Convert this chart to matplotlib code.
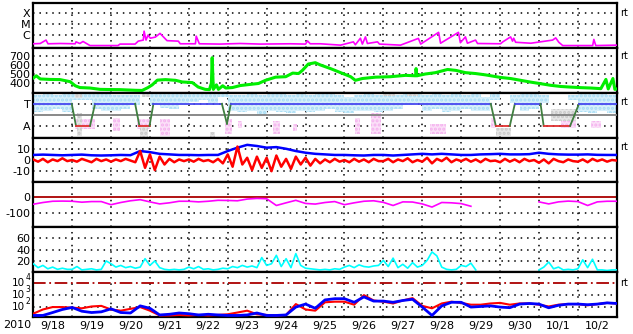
import numpy as np
import matplotlib
matplotlib.use("Agg")
import matplotlib.pyplot as plt
from matplotlib.transforms import blended_transform_factory
from matplotlib.ticker import NullLocator

plt.rcParams["font.family"] = ["DejaVu Sans"]
plt.rcParams["hatch.linewidth"] = 1.5

# time axis: days since 2010-09-18 00:00
DAY_LABELS = ["9/18", "9/19", "9/20", "9/21", "9/22", "9/23", "9/24", "9/25",
              "9/26", "9/27", "9/28", "9/29", "9/30", "10/1", "10/2"]

# GOES X-ray flux (W/m^2)
xray_t = [0.00, 0.18, 0.33, 0.38, 0.70, 1.08, 1.10, 1.20, 1.28, 1.46, 1.80, 2.18,
          2.23, 2.62, 2.70, 2.83, 2.85, 2.90, 2.95, 3.01, 3.14, 3.26, 3.44, 3.73,
          3.78, 4.17, 4.19, 4.27, 4.80, 5.32, 5.84, 6.61, 7.00, 7.05, 7.12, 7.38,
          7.90, 8.23, 8.28, 8.41, 8.46, 8.54, 8.59, 8.85, 8.90, 9.44, 9.90, 9.96,
          10.42, 10.47, 10.93, 10.98, 11.11, 11.16, 11.37, 11.42, 12.01, 12.07,
          12.27, 12.32, 12.35, 12.40, 12.79, 13.35, 13.43, 13.51, 13.61, 14.38,
          14.41, 14.46, 15.00]
xray_flux = [1.6e-7, 1.7e-7, 3.5e-7, 1.6e-7, 1.7e-7, 1.6e-7, 2.4e-7, 1.7e-7,
             2.6e-7, 1.1e-7, 1.1e-7, 1.1e-7, 1.5e-7, 1.5e-7, 2.8e-7, 3.5e-7,
             2.3e-6, 3.5e-7, 1.0e-6, 5.2e-7, 6.6e-7, 1.45e-6, 3.1e-7, 2.8e-7,
             1.6e-7, 1.6e-7, 8.1e-7, 1.6e-7, 1.5e-7, 1.7e-7, 1.5e-7, 1.6e-7,
             1.5e-7, 2.95e-7, 1.6e-7, 1.6e-7, 1.2e-7, 2.4e-7, 1.3e-7, 5.2e-7,
             1.5e-7, 6.9e-7, 1.7e-7, 2.4e-7, 1.5e-7, 1.2e-7, 5.0e-7, 1.5e-7,
             1.8e-6, 1.8e-7, 1.8e-6, 2.0e-7, 6.9e-7, 1.8e-7, 3.5e-7, 1.7e-7,
             1.6e-7, 2.4e-7, 6.9e-7, 2.8e-7, 5.2e-7, 2.2e-7, 1.8e-7, 3.5e-7,
             5.6e-7, 2.2e-7, 1.1e-7, 1.1e-7, 4.0e-7, 1.1e-7, 1.2e-7]

# solar wind speed (km/s)
speed_t = [0.00, 0.08, 0.18, 0.43, 0.69, 0.95, 1.08, 1.20, 1.46, 1.72, 1.98, 2.23,
           2.62, 2.80, 2.95, 3.06, 3.19, 3.40, 3.66, 3.83, 4.09, 4.24, 4.42, 4.53,
           4.58, 4.60, 4.63, 4.71, 4.76, 4.87, 4.95, 5.12, 5.32, 5.58, 5.79, 5.97,
           6.23, 6.49, 6.67, 6.82, 6.92, 7.07, 7.25, 7.38, 7.64, 7.90, 8.16, 8.28,
           8.46, 8.80, 9.18, 9.57, 9.83, 9.84, 9.86, 10.08, 10.34, 10.65, 10.86,
           11.11, 11.37, 11.63, 12.01, 12.27, 12.53, 12.79, 13.04, 13.30, 13.56,
           13.82, 14.08, 14.33, 14.59, 14.72, 14.78, 14.90, 14.95, 15.00]
speed = [455, 480, 445, 440, 438, 415, 370, 350, 345, 330, 328, 327,
         320, 318, 350, 380, 432, 438, 430, 412, 405, 356, 330, 327,
         400, 680, 330, 380, 330, 370, 345, 350, 372, 385, 395, 430,
         465, 470, 510, 505, 540, 610, 625, 600, 560, 515, 470, 430,
         450, 465, 470, 485, 480, 560, 480, 500, 515, 550, 540,
         515, 505, 490, 462, 450, 430, 410, 393, 375, 362,
         355, 349, 345, 338, 440, 335, 450, 330, 335]

# IMF sector: +1 toward (T), -1 away (A)
sector_t = [0, 0.99, 1.10, 1.46, 1.59, 2.62, 2.73, 2.99, 3.09, 4.85, 4.98, 5.08,
            11.76, 11.89, 12.25, 12.38, 13.04, 13.12, 13.80, 14.03, 15.0]
sector_v = [1, 1, -1, -1, 1, 1, -1, -1, 1, 1, -0.8, 1, 1, -1, -1, 1, 1, -1, -1, 1, 1]

# observed IMF angle clouds, 6-hour bins (upper / lower extent)
cloud_hi = [1.75, 1.85, 1.75, 1.94, 1.94, 1.94, 1.94, 1.94, 1.75, 1.75, 1.75, np.nan,
            1.94, 1.94, 1.94, 1.85, 1.85, 1.94, 1.94, 1.94, 1.75, 1.75, 1.94, 1.75,
            1.85, 1.94, 1.75, 1.94, 1.75, 1.85, 1.94, 1.75, 1.57, 1.75, 1.94, 1.75,
            1.94, 1.75, 1.94, 1.94, 1.75, 1.94, 1.75, 1.94, 1.75, 1.94, 1.57, 1.94,
            np.nan, 1.75, 1.94, 1.94, 1.75, np.nan, np.nan, 1.75, 1.94, 1.94, 1.94, 1.75]
cloud_lo = [0.21, 0.39, 0.57, 0.21, 1.30, 1.30, 0.57, 0.39, 0.39, 0.57, 0.85, np.nan,
            0.85, 0.66, 0.57, 0.85, 1.12, 1.30, 1.03, 1.57, 0.39, 0.21, 0.39, -0.06,
            0.39, 0.21, 0.12, 0.39, 0.21, 0.39, 0.57, 0.21, 0.12, 0.39, 0.39, 0.21,
            0.39, 0.57, 0.85, 1.03, 0.39, 0.57, 0.21, 0.39, 0.57, 0.39, 0.39, 1.30,
            np.nan, 1.03, 0.39, 0.57, 1.03, np.nan, np.nan, 1.30, 0.21, 0.12, 0.39, 0.12]
pink_t0 = [1.08, 2.05, 2.67, 3.26, 4.94, 5.27, 6.17, 6.69, 8.28, 8.67, 10.21, 11.76, 13.56, 14.33]
pink_t1 = [1.59, 2.23, 3.01, 3.52, 5.12, 5.37, 6.35, 6.79, 8.41, 8.93, 10.60, 11.89, 13.95, 14.59]
pink_lo = [-1.25, -1.43, -1.25, -1.88, -1.70, -1.16, -1.70, -1.43, -1.70, -1.70, -1.70, -1.16, -1.16, -1.16]
pink_hi = [-0.34, -0.25, -0.34, -0.34, -0.34, -0.52, -0.52, -0.79, -0.25, 0.12, -0.79, -0.25, -0.06, -0.52]
gray_t0 = [1.08, 1.13, 2.75, 2.80, 4.55, 9.00, 9.60, 11.89, 13.30]
gray_t1 = [1.26, 1.26, 2.95, 3.01, 4.68, 9.30, 9.90, 12.27, 13.95]
gray_lo = [1.48, -1.88, -2.06, 1.57, -2.06, 1.66, 1.66, -1.88, -0.52]
gray_hi = [1.94, 0.12, -1.06, 1.94, -1.52, 1.94, 1.94, -1.16, 0.57]

# IMF Bt / Bz (nT)
bt = [4.5, 4.8, 4.5, 4.2, 4.5, 4.8, 4.2, 4.0, 4.2, 4.5, 4.3, 8.0, 7.0, 5.5, 5.0, 4.5,
      4.5, 4.3, 4.5, 4.5, 8.0, 11.0, 13.5, 12.5, 11.0, 11.5, 10.0, 8.0, 6.5, 5.5, 5.0, 4.5,
      4.5, 4.2, 4.0, 4.5, 4.5, 4.0, 4.5, 5.0, 5.5, 5.0, 5.5, 5.0, 4.5, 4.5, 5.0, 5.2,
      5.5, 5.0, 5.0, 5.2, 6.5, 5.5, 5.0, 4.8, 4.8, 5.0, 4.6, 4.5, 4.5]
bz = [0.5, -1.5, 1.0, -2.0, 0.5, -1.0, 1.5, -1.0,
      0.0, -1.5, 1.0, -0.5, -2.0, 1.0, -1.0, 0.5,
      -1.5, 0.5, -1.0, 1.0, -0.5, -2.0, 8.0, -7.0,
      5.0, -9.0, 3.0, -4.0, 1.0, -2.0, 0.5, -1.0,
      0.5, -1.5, 1.0, -1.0, 0.0, -2.0, 1.0, -3.0,
      5.0, -6.0, 12.0, -4.0, 2.0, -9.0, 3.0, -7.0,
      2.0, -10.0, 4.0, -6.0, 1.0, -8.0, 3.0, -4.0,
      2.0, -5.0, 1.0, -3.0, 0.5, -2.0, 1.0, -1.5,
      0.0, -2.0, 1.0, -1.5, 0.5, -2.0, 1.0, -1.0,
      -1.0, 1.0, -2.0, 0.5, -1.0, 1.5, -2.0, 0.0,
      -1.5, 2.0, -3.0, 1.0, -1.0, 2.0, -2.0, 0.5,
      -1.0, 1.0, -1.5, 0.5, -2.0, 1.0, -1.0, -0.5,
      -2.0, 1.0, -1.5, 0.5, -2.0, 1.0, -1.0, 0.0,
      -2.5, 0.5, -3.0, 1.0, -1.0, -2.0, 0.5, -1.0,
      -1.5, 0.5, -2.0, 1.0, -1.0, 0.5, -1.5, 0.0,
      -0.5]

# Dst (nT), 6-hourly
nan = np.nan
dst = [-47, -36, -28, -27, -28, -34, -30, -30,
       -50, -36, -25, -18, -32, -45, -38, -28,
       -28, -32, -28, -22, -23, -25, -14, -10,
       -12, -55, -38, -22, -42, -46, -36, -30,
       -50, -38, -28, -25, -35, -55, -32, -33,
       -45, -65, -36, -38, -43, -60, nan, nan,
       nan, nan, nan, nan, -32, -45, -32, -27,
       -30, -55, -32, -28, -28]

# proton density (/cc), 3-hourly
density = [15, 8, 12, 6, 9, 5, 7, 5,
           5, 10, 4, 5, 6, 4, 5, 20,
           15, 9, 12, 8, 10, 7, 9, 24,
           12, 20, 8, 5, 4, 5, 4, 5,
           9, 6, 10, 5, 6, 4, 5, 7,
           6, 10, 8, 12, 9, 11, 8, 26,
           12, 15, 30, 10, 24, 8, 33, 12,
           7, 6, 5, 4, 5, 4, 6, 5,
           9, 12, 8, 13, 10, 9, 11, 12,
           21, 10, 25, 8, 14, 7, 17, 9,
           12, 21, 36, 29, 9, 5, 4, 5,
           12, 10, 16, 4, nan, nan, nan, nan,
           nan, nan, nan, nan, nan, nan, nan, nan,
           4, 9, 18, 6, 9, 4, 5, 4,
           6, 22, 8, 23, 4, 4, 3, 4,
           4]

# electron flux, 6-hourly
elec_red = [28, 63, 100, 100, 89, 79, 112, 126,
            63, 50, 71, 100, 50, 20, 20, 22,
            20, 22, 20, 22, 25, 35, 50, 25,
            22, 20, 22, 178, 63, 50, 251, 282,
            282, 158, 1000, 355, 282, 200, 355, 562,
            126, 79, 200, 282, 224, 158, 158, 200,
            224, 158, 200, 200, 158, 112, 158, 178,
            178, 141, 178, 224, 200]
elec_blue = [20, 20, 35, 63, 93, 45, 35, 40,
             71, 35, 32, 126, 79, 22, 25, 32,
             28, 22, 25, 22, 20, 20, 22, 32,
             20, 20, 22, 100, 178, 79, 398, 501,
             501, 251, 708, 316, 316, 251, 355, 447,
             100, 20, 126, 251, 251, 100, 112, 126,
             100, 89, 178, 200, 178, 87, 141, 178,
             178, 158, 178, 224, 200]
elec_levels = [1e2, 1e3, 1e4]
elec_exps = ["2", "3", "4"]

t6 = np.arange(len(dst)) * 0.25
t3 = np.arange(len(bz)) * 0.125

W, H = 633, 334
fig = plt.figure(figsize=(W / 100, H / 100), dpi=100)
left, right = 33.2 / W, 616.8 / W
top_px, bot_px = 3.0, 317.0
ph = (bot_px - top_px) / 7

DOT = (0, (1.0, 3.2))
DARKRED = "#aa0000"


def make_axis(i):
    y0 = 1 - (top_px + (i + 1) * ph) / H
    ax = fig.add_axes([left, y0, right - left, ph / H])
    ax.set_xlim(0, 15)
    for s in ax.spines.values():
        s.set_linewidth(1.6)
    for d in range(1, 15):
        ax.axvline(d, color="black", lw=1.1, ls=DOT, zorder=1)
    ax.tick_params(axis="both", length=0, labelsize=8, pad=2)
    ax.set_xticks([])
    return ax


def hdots(ax, levels):
    for v in levels:
        ax.axhline(v, color="black", lw=1.1, ls=DOT, zorder=1)


def rt(ax, y):
    tr = blended_transform_factory(ax.transAxes, ax.transData)
    ax.text(1.006, y, "rt", transform=tr, fontsize=7, va="center", ha="left")


def boxes(ax, t0, t1, lo, hi, face, edge):
    ax.bar(t0, np.array(hi) - np.array(lo), bottom=lo,
           width=np.array(t1) - np.array(t0), align="edge",
           facecolor=face, edgecolor=edge, hatch="....", lw=0, zorder=2)


# panel 1: X-ray
ax = make_axis(0)
ax.set_yscale("log")
ax.set_ylim(10 ** -7.17, 10 ** -3.05)
hdots(ax, [1e-4, 1e-5, 1e-6])
ax.plot(xray_t, xray_flux, color="#ff00ff", lw=1.2, zorder=3)
ax.set_yticks([1e-4, 1e-5, 1e-6], ["X", "M", "C"])
ax.yaxis.set_minor_locator(NullLocator())
rt(ax, 1e-4)

# panel 2: speed
ax = make_axis(1)
ax.set_ylim(293, 789)
hdots(ax, [400, 500, 600, 700])
ax.plot(speed_t, speed, color="#00ee00", lw=2.2, zorder=3)
ax.set_yticks([400, 500, 600, 700], ["400", "500", "600", "700"])
rt(ax, 700)

# panel 3: sector
ax = make_axis(2)
ax.set_ylim(-2.06, 2.0)
hdots(ax, [1, -1])
edges = np.arange(len(cloud_hi)) * 0.25
ok = ~np.isnan(np.array(cloud_hi))
boxes(ax, edges[ok], edges[ok] + 0.25, np.array(cloud_lo)[ok], np.array(cloud_hi)[ok],
      "#d8f0fb", "#a6dcf4")
boxes(ax, pink_t0, pink_t1, pink_lo, pink_hi, "#fbe0f8", "#f4b0ee")
boxes(ax, gray_t0, gray_t1, gray_lo, gray_hi, "#e6e6e6", "#c8c8c8")
ax.axhline(0, color="#808080", lw=1.3, zorder=3)
for k in range(len(sector_t) - 1):
    a, b = sector_v[k], sector_v[k + 1]
    c = "#4848f0" if a == b == 1 else ("#e03030" if a == b == -1 else "#3f7f3f")
    ax.plot(sector_t[k:k + 2], sector_v[k:k + 2], color=c, lw=1.3, zorder=4)
ax.set_yticks([1, -1], ["T", "A"])
rt(ax, 1.2)

# panel 4: IMF
ax = make_axis(3)
ax.set_ylim(-20, 20)
hdots(ax, [10, -10])
ax.plot(t6, bt, color="#0000ff", lw=1.8, zorder=3)
ax.plot(t3, bz, color="#ff0000", lw=1.8, zorder=4)
ax.set_yticks([10, 0, -10], ["10", "0", "-10"])
rt(ax, 12)

# panel 5: Dst
ax = make_axis(4)
ax.set_ylim(-194, 92)
hdots(ax, [-100])
ax.axhline(0, color=DARKRED, lw=1.3, zorder=2)
ax.plot(t6, dst, color="#ff00ff", lw=1.2, zorder=3)
ax.set_yticks([0, -100], ["0", "-100"])

# panel 6: density
ax = make_axis(5)
ax.set_ylim(0, 80)
hdots(ax, [20, 40, 60])
ax.plot(t3, density, color="#00ffff", lw=1.2, zorder=3)
ax.set_yticks([20, 40, 60], ["20", "40", "60"])

# panel 7: electrons
ax = make_axis(6)
ax.set_yscale("log")
ax.set_ylim(10 ** 1.17, 10 ** 4.92)
hdots(ax, [1e2, 1e3])
ax.axhline(1e4, color=DARKRED, lw=1.3, ls=(0, (7, 2, 1, 2)), zorder=2)
ax.plot(t6, elec_red, color="#ff0000", lw=1.5, zorder=3)
ax.plot(t6, elec_blue, color="#0000ff", lw=2.0, zorder=4)
ax.set_yticks([])
ax.yaxis.set_minor_locator(NullLocator())
tr = blended_transform_factory(fig.transFigure, ax.transData)
for lev, e in zip(elec_levels, elec_exps):
    ax.text(25 / W, lev, "10", transform=tr, fontsize=7.5, ha="right", va="center")
    ax.annotate(e, (25.5 / W, lev), xycoords=tr, xytext=(0, 4), textcoords="offset points",
                fontsize=5.5, ha="left", va="center")
rt(ax, 1e4)
ax.set_xticks(np.arange(15) + 0.5, DAY_LABELS)
ax.tick_params(axis="x", length=0, labelsize=8, pad=3)

fig.text(3 / W, 1 - 325 / H, "2010", fontsize=8, ha="left", va="center")

fig.savefig("out.png", dpi=100, facecolor="white")
